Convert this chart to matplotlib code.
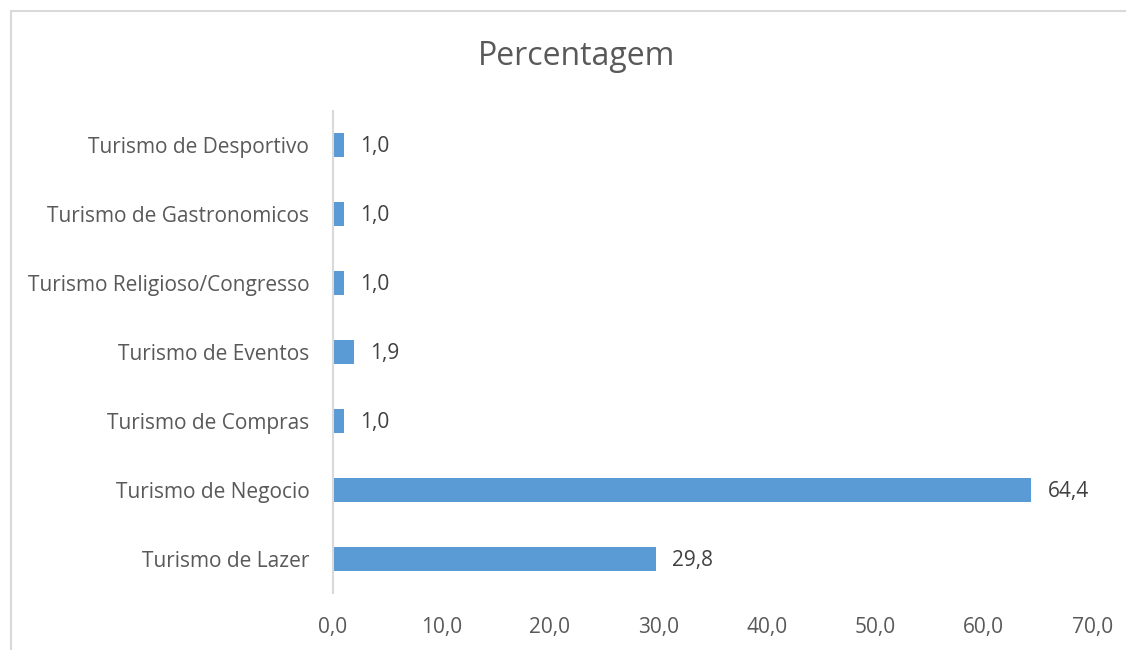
import matplotlib.pyplot as plt
from matplotlib.patches import Rectangle

categorias = ["Turismo de Lazer", "Turismo de Negocio", "Turismo de Compras",
              "Turismo de Eventos", "Turismo Religioso/Congresso",
              "Turismo de Gastronomicos", "Turismo de Desportivo"]
valores = [29.8, 64.4, 1.0, 1.9, 1.0, 1.0, 1.0]
xticks = [0, 10, 20, 30, 40, 50, 60, 70]

plt.rcParams['font.family'] = ['Open Sans', 'DejaVu Sans']
cor_texto = '#595959'
cor_linha = '#D9D9D9'

fig = plt.figure(figsize=(11.26, 6.5), dpi=100)
ax = fig.add_axes([0.2957, 0.087, 0.6743, 0.743])

pos = list(range(len(categorias)))
ax.barh(pos, valores, height=0.35, color='#5B9BD5')

for p, v in zip(pos, valores):
    ax.annotate(f"{v:.1f}".replace('.', ','), (v, p), xytext=(16, -2),
                textcoords='offset pixels', va='center', ha='left',
                fontsize=15, color='#404040')

ax.set_xlim(0, 70)
ax.set_ylim(-0.5, len(categorias) - 0.5)
ax.set_xticks(xticks)
ax.set_xticklabels([f"{t:.1f}".replace('.', ',') for t in xticks])
ax.set_yticks(pos)
ax.set_yticklabels(categorias)
ax.tick_params(axis='both', length=0, labelsize=15, labelcolor=cor_texto)
ax.tick_params(axis='x', pad=17)
ax.tick_params(axis='y', pad=17)

for s in ['top', 'right', 'bottom']:
    ax.spines[s].set_visible(False)
ax.spines['left'].set_color(cor_linha)
ax.spines['left'].set_linewidth(1.5)

fig.text(0.512, 0.913, "Percentagem", ha='center', va='center',
         fontsize=23, color=cor_texto)

# moldura do grafico (cortada a direita e em baixo)
fig.patches.append(Rectangle((10.5 / 1126, -0.1), 2.0, 1 - 11.5 / 650 + 0.1,
                             transform=fig.transFigure, fill=False,
                             edgecolor=cor_linha, linewidth=1.5))

fig.savefig("out.png", dpi=100)
